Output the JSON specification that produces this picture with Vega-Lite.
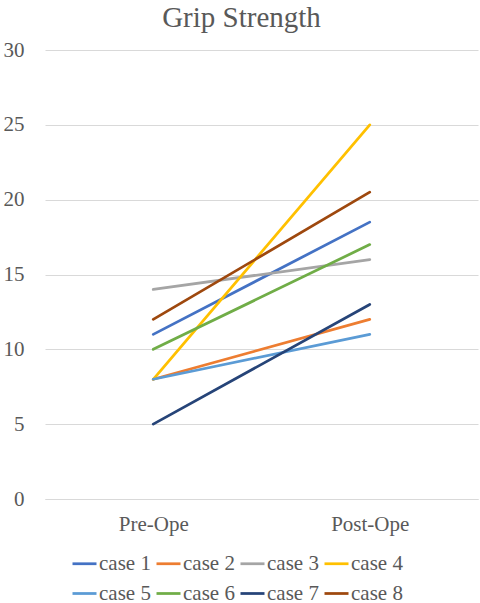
{
  "$schema": "https://vega.github.io/schema/vega-lite/v6.json",
  "autosize": {"type": "none"},
  "padding": {"left": 45, "top": 50, "right": 2, "bottom": 104},
  "width": 433,
  "height": 449,
  "background": "white",
  "title": {
    "text": "Grip Strength",
    "font": "Liberation Serif, Times New Roman, serif",
    "fontSize": 29,
    "fontWeight": "normal",
    "color": "#595959",
    "anchor": "middle",
    "frame": "group",
    "dx": -20,
    "baseline": "alphabetic",
    "offset": -17
  },
  "config": {
    "view": {"stroke": null},
    "font": "Liberation Serif, Times New Roman, serif"
  },
  "data": {
    "values": [
      {"case": "case 1", "time": "Pre-Ope", "grip": 11},
      {"case": "case 1", "time": "Post-Ope", "grip": 18.5},
      {"case": "case 2", "time": "Pre-Ope", "grip": 8},
      {"case": "case 2", "time": "Post-Ope", "grip": 12},
      {"case": "case 3", "time": "Pre-Ope", "grip": 14},
      {"case": "case 3", "time": "Post-Ope", "grip": 16},
      {"case": "case 4", "time": "Pre-Ope", "grip": 8},
      {"case": "case 4", "time": "Post-Ope", "grip": 25},
      {"case": "case 5", "time": "Pre-Ope", "grip": 8},
      {"case": "case 5", "time": "Post-Ope", "grip": 11},
      {"case": "case 6", "time": "Pre-Ope", "grip": 10},
      {"case": "case 6", "time": "Post-Ope", "grip": 17},
      {"case": "case 7", "time": "Pre-Ope", "grip": 5},
      {"case": "case 7", "time": "Post-Ope", "grip": 13},
      {"case": "case 8", "time": "Pre-Ope", "grip": 12},
      {"case": "case 8", "time": "Post-Ope", "grip": 20.5}
    ]
  },
  "mark": {"type": "line", "strokeWidth": 2.75, "strokeCap": "round"},
  "encoding": {
    "x": {
      "field": "time",
      "type": "nominal",
      "sort": ["Pre-Ope", "Post-Ope"],
      "scale": {"type": "point", "padding": 0.5},
      "axis": {
        "title": null,
        "labelAngle": 0,
        "labelFont": "Liberation Serif",
        "labelFontSize": 21,
        "labelColor": "#595959",
        "labelPadding": 14,
        "ticks": false,
        "domainColor": "#D9D9D9",
        "domainWidth": 1,
        "grid": false
      }
    },
    "y": {
      "field": "grip",
      "type": "quantitative",
      "scale": {"domain": [0, 30], "nice": false},
      "axis": {
        "title": null,
        "values": [0, 5, 10, 15, 20, 25, 30],
        "labelFont": "Liberation Serif",
        "labelFontSize": 21,
        "labelColor": "#595959",
        "labelPadding": 21,
        "ticks": false,
        "domain": false,
        "gridColor": "#D9D9D9",
        "gridWidth": 1
      }
    },
    "color": {
      "field": "case",
      "type": "nominal",
      "scale": {
        "domain": ["case 1", "case 2", "case 3", "case 4", "case 5", "case 6", "case 7", "case 8"],
        "range": ["#4472C4", "#ED7D31", "#A5A5A5", "#FFC000", "#5B9BD5", "#70AD47", "#264478", "#9E480E"]
      },
      "legend": {
        "title": null,
        "orient": "none",
        "legendX": 26,
        "legendY": 500,
        "direction": "horizontal",
        "columns": 4,
        "symbolType": "stroke",
        "symbolSize": 576,
        "symbolStrokeWidth": 2.75,
        "labelFont": "Liberation Serif",
        "labelFontSize": 21,
        "labelColor": "#595959",
        "labelOffset": 1,
        "columnPadding": 0,
        "rowPadding": 6,
        "symbolOffset": 0
      }
    }
  }
}
